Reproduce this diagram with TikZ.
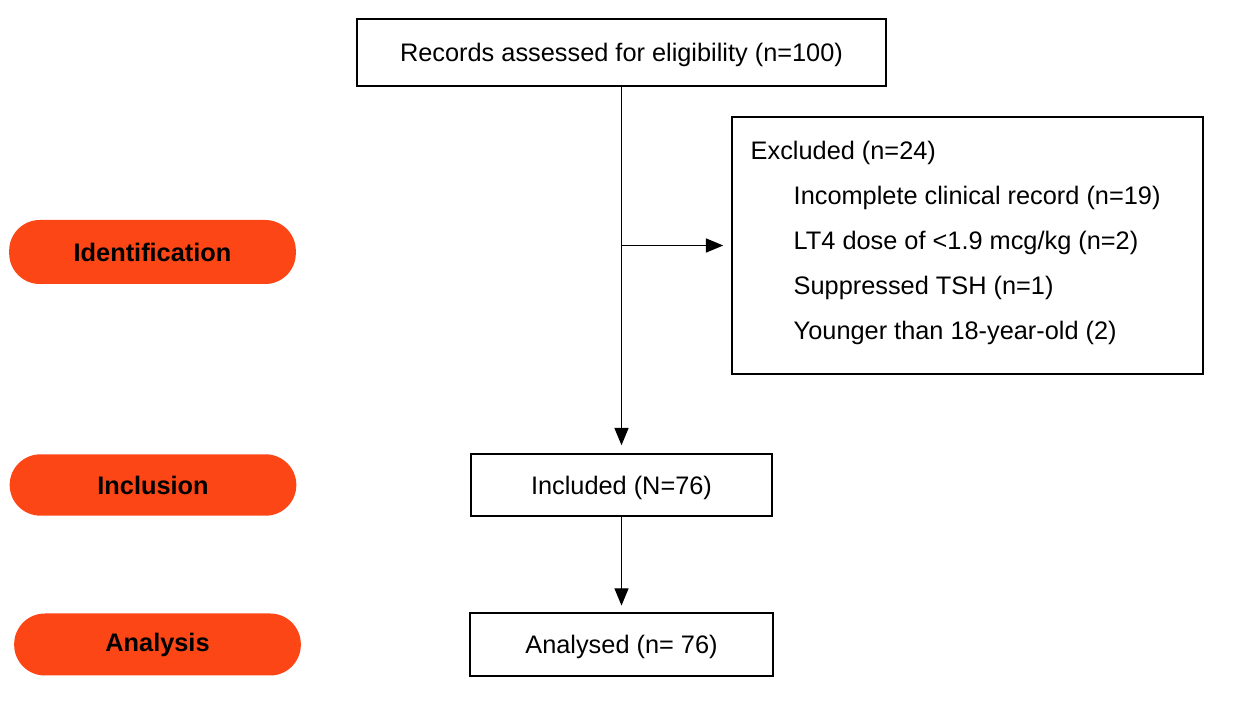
\documentclass[tikz,border=0pt]{standalone}
\usepackage{fontspec}
\setmainfont{Liberation Sans}
\usetikzlibrary{arrows.meta}
\definecolor{stagered}{HTML}{FC4616}
\begin{document}
\begin{tikzpicture}[x=.75pt,y=-.75pt,line width=1.1pt,>={Triangle[length=13pt,width=10.5pt]},
    box/.style={draw,inner sep=0pt,text depth=0pt,font=\fontsize{19}{22}\selectfont},
    stage/.style={fill=stagered,inner sep=0pt,minimum width=215pt,rounded corners=23pt,
        font=\fontsize{19}{22}\selectfont\bfseries},
    item/.style={anchor=west,inner sep=0pt,font=\fontsize{19}{22}\selectfont}]
            \useasboundingbox (0,0) rectangle (1240,705);
            \node[stage,minimum height=48pt] (ident) at (152.5,252){Identification};
            \node[stage,minimum height=46pt] (incl) at (153,485){Inclusion};
            \node[stage,minimum height=46.5pt] (anal) at (157.5,644.5){Analysis};
            \node[box,minimum width=396.75pt,minimum height=50.25pt] (rec) at (621.5,52.5)
            {Records assessed for eligibility (n=100)};
            \node[box,minimum width=353.25pt,minimum height=192.75pt] (excl) at (967.5,245.5){};
            \node[item] (ex0) at (750,153){Excluded (n=24)};
            \node[item] (ex1) at (793,198){Incomplete clinical record (n=19)};
            \node[item] (ex2) at (793,243){LT4 dose of <1.9 mcg/kg (n=2)};
            \node[item] (ex3) at (793,288){Suppressed TSH (n=1)};
            \node[item] (ex4) at (793,333){Younger than 18-year-old (2)};
            \node[box,minimum width=225.75pt,minimum height=46.5pt] (inc) at (621.5,485){Included (N=76)};
            \node[box,minimum width=227.25pt,minimum height=47.25pt] (ana) at (621.5,644.5){Analysed (n= 76)};
            \draw[->,shorten >=6pt] (rec) -- (inc);
            \draw[->,shorten >=6pt] (rec.south |- excl.west) -- (excl.west);
            \draw[->,shorten >=5pt] (inc) -- (ana);
    \end{tikzpicture}
\end{document}
